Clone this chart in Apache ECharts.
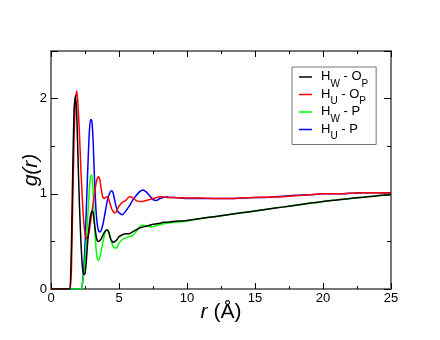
<!DOCTYPE html>
<html>
<head>
<meta charset="utf-8">
<script src="https://cdn.jsdelivr.net/npm/echarts@6/dist/echarts.min.js"></script>
<style>
	html, body { margin: 0; padding: 0; background: #fff; }
	#chart { width: 440px; height: 340px; }
</style>
</head>
<body>
<div id="chart"></div>
<script>
// r grid (Angstrom), shared by all four curves
const rValues = [
	0, 1.3, 1.4, 1.5, 1.6, 1.7, 1.8, 1.9, 2.0, 2.1, 2.2, 2.3, 2.4, 2.5, 2.6, 2.7, 2.8, 2.9,
	3.0, 3.1, 3.2, 3.3, 3.4, 3.5, 3.6, 3.7, 3.8, 3.9, 4.0, 4.1, 4.2, 4.3, 4.4, 4.5, 4.6, 4.7, 4.8, 4.9,
	5.0, 5.25, 5.5, 5.75, 6.0, 6.25, 6.5, 6.75, 7.0, 7.25, 7.5, 7.75, 8.0, 8.25, 8.5, 8.75, 9.0,
	10, 11, 12, 13, 14, 15, 16, 17, 18, 19, 20, 21, 22, 23, 24, 25
]

const hwOp = [
	0, 0, 0, 0.45, 1.25, 1.9, 2.03, 1.8, 1.3, 0.85, 0.5, 0.25, 0.15, 0.16, 0.3, 0.5, 0.65, 0.76,
	0.82, 0.8, 0.68, 0.57, 0.51, 0.5, 0.51, 0.53, 0.56, 0.59, 0.61, 0.62, 0.61, 0.57, 0.52, 0.5, 0.49, 0.5, 0.51, 0.53,
	0.55, 0.57, 0.58, 0.58, 0.6, 0.62, 0.64, 0.65, 0.66, 0.67, 0.68, 0.685, 0.69, 0.7, 0.7, 0.705, 0.71,
	0.72, 0.74, 0.76, 0.78, 0.8, 0.82, 0.84, 0.86, 0.88, 0.9, 0.92, 0.935, 0.95, 0.965, 0.98, 0.99
]

const huOp = [
	0, 0, 0, 0.2, 0.9, 1.6, 2.0, 2.08, 1.9, 1.6, 1.25, 0.95, 0.72, 0.58, 0.53, 0.54, 0.6, 0.7,
	0.8, 0.9, 1.0, 1.1, 1.16, 1.18, 1.14, 1.04, 0.97, 0.95, 0.96, 0.97, 0.96, 0.92, 0.87, 0.83, 0.81, 0.8, 0.81, 0.84,
	0.87, 0.91, 0.93, 0.97, 0.96, 0.93, 0.92, 0.92, 0.93, 0.94, 0.95, 0.96, 0.97, 0.97, 0.96, 0.96, 0.96,
	0.955, 0.955, 0.95, 0.95, 0.955, 0.96, 0.965, 0.97, 0.98, 0.99, 1.0, 1.0, 1.005, 1.01, 1.01, 1.005
]

const hwP = [
	0, 0, 0, 0, 0, 0, 0, 0, 0, 0, 0, 0.05, 0.15, 0.3, 0.5, 0.75, 1.0, 1.18,
	1.2, 1.0, 0.7, 0.45, 0.32, 0.3, 0.34, 0.41, 0.48, 0.55, 0.6, 0.62, 0.62, 0.58, 0.52, 0.47, 0.44, 0.43, 0.43, 0.45,
	0.48, 0.52, 0.54, 0.55, 0.56, 0.6, 0.65, 0.67, 0.665, 0.655, 0.655, 0.665, 0.675, 0.685, 0.69, 0.695, 0.7,
	0.715, 0.74, 0.76, 0.78, 0.8, 0.82, 0.84, 0.86, 0.88, 0.9, 0.92, 0.935, 0.95, 0.965, 0.98, 0.99
]

const huP = [
	0, 0, 0, 0, 0, 0, 0, 0, 0, 0, 0, 0.05, 0.2, 0.45, 0.85, 1.25, 1.6, 1.78,
	1.77, 1.55, 1.15, 0.85, 0.68, 0.61, 0.6, 0.62, 0.67, 0.74, 0.82, 0.9, 0.96, 1.0, 1.03, 1.03, 0.99, 0.92, 0.86, 0.82,
	0.8, 0.78, 0.82, 0.87, 0.93, 0.98, 1.02, 1.04, 1.02, 0.98, 0.94, 0.93, 0.95, 0.96, 0.97, 0.96, 0.96,
	0.95, 0.95, 0.95, 0.95, 0.955, 0.96, 0.965, 0.975, 0.985, 0.99, 1.0, 1.0, 1.005, 1.01, 1.01, 1.01
]

const seriesNames = ['Hw-Op', 'Hu-Op', 'Hw-P', 'Hu-P']
const seriesColors = ['#000000', '#ff0000', '#00ff00', '#0000ff']
const legendLabels = {
	'Hw-Op': '{t|H}{s|W}{t| - O}{s|P}',
	'Hu-Op': '{t|H}{s|U}{t| - O}{s|P}',
	'Hw-P': '{t|H}{s|W}{t| - P}',
	'Hu-P': '{t|H}{s|U}{t| - P}'
}

const frameColor = '#777777'
const font = 'Liberation Sans, Arial, sans-serif'

const pairs = function(ys) {
	return rValues.map(function(r, i) {
		return [r, ys[i]]
	})
}

const makeY = function(position, interval, len, showLabel) {
	return {
		type: 'value',
		position: position,
		min: 0,
		max: 2.5,
		interval: interval,
		splitLine: { show: false },
		axisLine: { show: true, lineStyle: { color: frameColor, width: 2 } },
		axisTick: { show: true, inside: true, length: len, lineStyle: { color: '#000', width: 1 } },
		axisLabel: {
			show: showLabel,
			margin: 4,
			color: '#000',
			fontSize: 13,
			fontFamily: font,
			formatter: function(v) {
				return v % 1 === 0 ? String(v) : ''
			}
		}
	}
}

const makeX = function(position, showLabel) {
	return {
		type: 'value',
		position: position,
		min: 0,
		max: 25,
		interval: 5,
		splitLine: { show: false },
		axisLine: { show: true, onZero: false, lineStyle: { color: frameColor, width: 2 } },
		axisTick: { show: true, inside: true, length: 6, lineStyle: { color: '#000', width: 1 } },
		minorTick: { show: true, splitNumber: 2, length: 3, lineStyle: { color: '#000', width: 1 } },
		axisLabel: { show: showLabel, margin: 3, color: '#000', fontSize: 13, fontFamily: font }
	}
}

const xBottom = makeX('bottom', true)
xBottom.name = '{i|r} (Å)'
xBottom.nameLocation = 'middle'
xBottom.nameGap = 13
xBottom.nameMoveOverlap = false
xBottom.nameTextStyle = {
	color: '#000',
	fontSize: 21,
	fontFamily: font,
	rich: { i: { fontStyle: 'italic', fontSize: 21, fontFamily: font, color: '#000' } }
}

const yLeft = makeY('left', 0.5, 4, true)
yLeft.name = 'g(r)'
yLeft.nameLocation = 'middle'
yLeft.nameGap = 9
yLeft.nameMoveOverlap = false
yLeft.nameTextStyle = { color: '#000', fontSize: 21, fontStyle: 'italic', fontFamily: font }

const yLeftMajor = makeY('left', 1, 7, false)
yLeftMajor.axisLine.show = false
const yRight = makeY('right', 0.5, 4, false)
const yRightMajor = makeY('right', 1, 7, false)
yRightMajor.axisLine.show = false

const option = {
	animation: false,
	backgroundColor: '#fff',
	grid: { left: 51, right: 49, top: 51, bottom: 51, containLabel: false },
	legend: {
		orient: 'vertical',
		left: 292,
		top: 67,
		padding: [3, 8, 3, 7],
		itemGap: -1.5,
		itemWidth: 13,
		itemHeight: 1.5,
		icon: 'rect',
		borderColor: frameColor,
		borderWidth: 1,
		data: seriesNames,
		formatter: function(name) {
			return legendLabels[name]
		},
		textStyle: {
			padding: [0, 0, 0, 4],
			rich: {
				t: { fontSize: 13, fontFamily: font, color: '#000', lineHeight: 14, verticalAlign: 'top' },
				s: { fontSize: 10, fontFamily: font, color: '#000', lineHeight: 8, padding: [9, 0, 0, 0], verticalAlign: 'top' }
			}
		}
	},
	xAxis: [xBottom, makeX('top', false)],
	yAxis: [yLeft, yLeftMajor, yRight, yRightMajor],
	series: [hwOp, huOp, hwP, huP].map(function(ys, i) {
		return {
			name: seriesNames[i],
			type: 'line',
			xAxisIndex: 0,
			yAxisIndex: 0,
			data: pairs(ys),
			symbol: 'none',
			smooth: 0.2,
			lineStyle: { color: seriesColors[i], width: 1.5 },
			itemStyle: { color: seriesColors[i] },
			z: 4 - i
		}
	})
}

const myChart = echarts.init(document.getElementById('chart'), null, { renderer: 'canvas' })
myChart.setOption(option)
</script>
</body>
</html>
